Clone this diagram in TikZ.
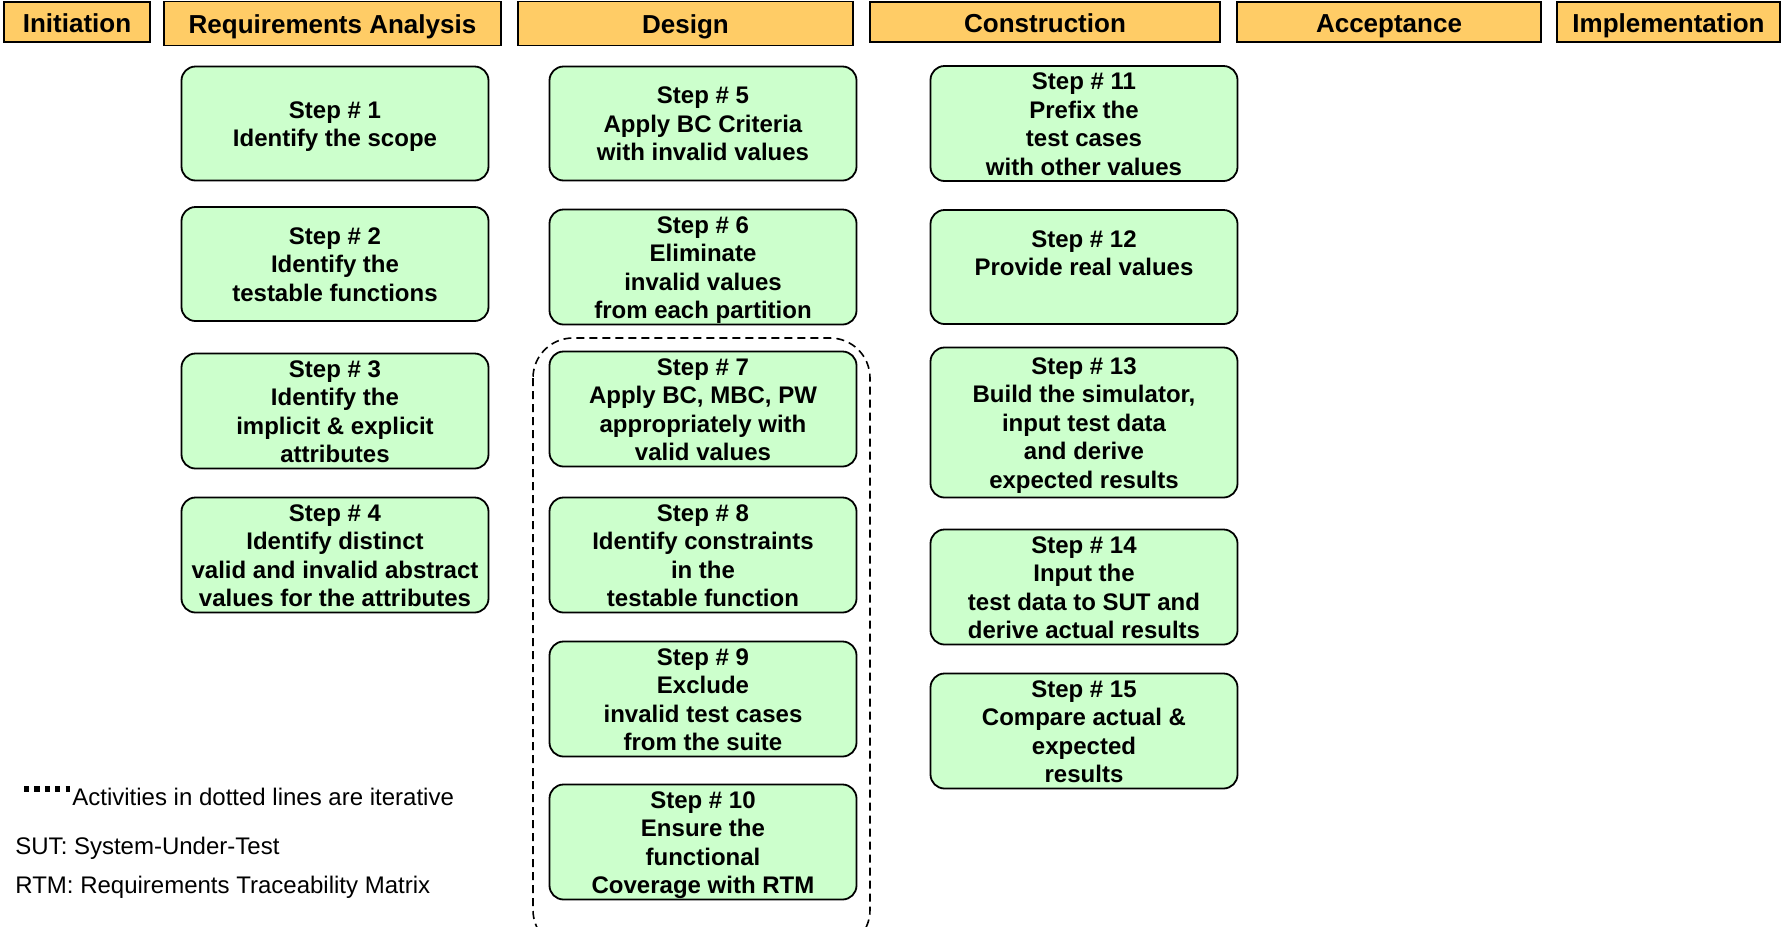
\documentclass[tikz,border=0pt]{standalone}
\usepackage{fontspec}
\setmainfont{Liberation Sans}
\usepackage{xcolor}
\definecolor{phaseorange}{HTML}{FFCC66}
\definecolor{stepgreen}{HTML}{CCFFCC}
\newcommand\linestrut{\rule[-3pt]{0pt}{14.75pt}}

\begin{document}
\begin{tikzpicture}[x=0.5pt,y=-0.5pt]
        \tikzset{phase/.style={draw, fill=phaseorange, line width=0.9pt, inner sep=0pt,
                minimum height=20pt, text height=11pt, text depth=1pt,
                font=\fontsize{13}{15}\selectfont\bfseries},
            stepbox/.style={draw, fill=stepgreen, line width=0.9pt, rounded corners=7pt,
                inner sep=0pt, minimum width=153.5pt, minimum height=57pt, align=center,
                font=\fontsize{12}{14.25}\selectfont\bfseries,
                execute at end node=\linestrut},
            iterbox/.style={draw, line width=0.8pt, dash pattern=on 4pt off 2.5pt, rounded corners=20pt},
            note/.style={anchor=base west, inner sep=0pt, font=\fontsize{12}{14}\selectfont}}
        \useasboundingbox (0,0) rectangle (1785,927);

        \node[phase, minimum width=73pt] (initiation) at (77,22) {Initiation};
        \node[phase, minimum width=168.5pt, minimum height=22pt] (analysis) at (332.5,23.5) {Requirements Analysis};
        \node[phase, minimum width=167.5pt, minimum height=22pt] (design) at (685.5,23.5) {Design};
        \node[phase, minimum width=175pt] (construction) at (1045,22) {Construction};
        \node[phase, minimum width=152pt] (acceptance) at (1389,22) {Acceptance};
        \node[phase, minimum width=111.5pt] (implementation) at (1668.5,22) {Implementation};

        \draw[iterbox] (533,338) rectangle (870,950);

        \node[stepbox] (step1) at (335,123.5) {\linestrut Step \# 1\\Identify the scope};
        \node[stepbox] (step2) at (335,264) {\linestrut Step \# 2\\Identify the\\testable functions};
        \node[stepbox] (step3) at (335,411) {\linestrut Step \# 3\\Identify the\\implicit \& explicit\\attributes};
        \node[stepbox] (step4) at (335,555) {\linestrut Step \# 4\\Identify distinct\\valid and invalid abstract\\values for the attributes};

        \node[stepbox] (step5) at (703,123.5) {\linestrut Step \# 5\\Apply BC Criteria\\with invalid values};
        \node[stepbox] (step6) at (703,267) {\linestrut Step \# 6\\Eliminate\\invalid values\\from each partition};
        \node[stepbox] (step7) at (703,409) {\linestrut Step \# 7\\Apply BC, MBC, PW\\appropriately with\\valid values};
        \node[stepbox] (step8) at (703,555) {\linestrut Step \# 8\\Identify constraints\\in the\\testable function};
        \node[stepbox] (step9) at (703,699) {\linestrut Step \# 9\\Exclude\\invalid test cases\\from the suite};
        \node[stepbox] (step10) at (703,842) {\linestrut Step \# 10\\Ensure the\\functional\\Coverage with RTM};

        \node[stepbox] (step11) at (1084,123.5) {\linestrut Step \# 11\\Prefix the\\test cases\\with other values};
        \node[stepbox] (step12) at (1084,267) {\linestrut Step \# 12\\Provide real values\\\mbox{}};
        \node[stepbox, minimum height=75pt] (step13) at (1084,422.5) {\linestrut Step \# 13\\Build the simulator,\\input test data\\and derive\\expected results};
        \node[stepbox] (step14) at (1084,587) {\linestrut Step \# 14\\Input the\\test data to SUT and\\derive actual results};
        \node[stepbox] (step15) at (1084,731) {\linestrut Step \# 15\\Compare actual \&\\expected\\results};

        \coordinate (dotsA) at (24,789);
        \coordinate (dotsB) at (70,789);
        \draw[line width=2.8pt, dash pattern=on 2.6pt off 2.6pt] (dotsA) -- (dotsB);
        \node[note] (iterative) at (72,805) {Activities in dotted lines are iterative};
        \node[note] (sut) at (15,854) {SUT: System-Under-Test};
        \node[note] (rtm) at (15,893) {RTM: Requirements Traceability Matrix};
\end{tikzpicture}
\end{document}
